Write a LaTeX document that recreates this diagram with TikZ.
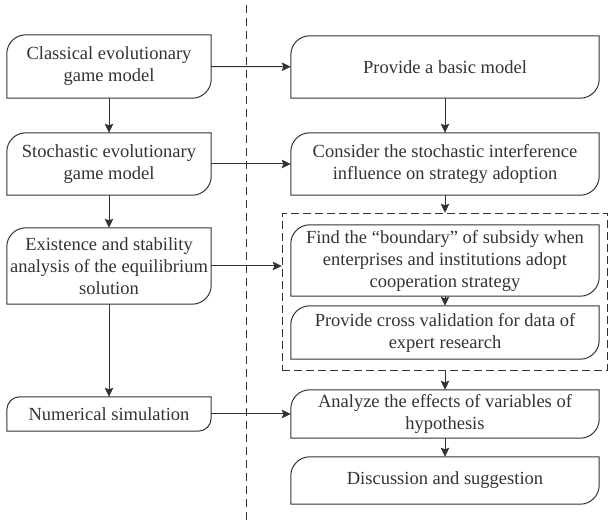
\documentclass[tikz,border=0pt]{standalone}
\usepackage{fontspec}
\setmainfont{Liberation Serif}
\usetikzlibrary{arrows.meta,fit,calc}
\definecolor{inkgray}{HTML}{333333}

% box with rounded top-left and bottom-right corners
\newcommand{\leafoutline}[2]{%
  \draw[leafline] ([yshift=-#2]#1.north west)
    arc[start angle=180,end angle=90,radius=#2] -- (#1.north east)
    -- ([yshift=#2]#1.south east)
    arc[start angle=0,end angle=-90,radius=#2] -- (#1.south west) -- cycle;}

\begin{document}
\begin{tikzpicture}[x=1pt,y=1pt,
      leafline/.style={draw=inkgray,line width=1pt},
      leaf/.style={inner sep=0pt,align=center,text=inkgray,
        font=\fontsize{18.5}{22}\selectfont},
      lbox/.style={leaf,minimum width=204pt},
      rbox/.style={leaf,minimum width=308pt},
      flow/.style={draw=inkgray,line width=1pt,
        -{Stealth[length=9pt,width=8.5pt,inset=1.5pt]}},
      groupbox/.style={draw=inkgray,line width=1pt,dash pattern=on 8pt off 4pt,
        inner xsep=8.5pt,inner ysep=11.5pt}]
  \useasboundingbox (0,0) rectangle (608,524);

  % left column
  \node[lbox,minimum height=63pt] (classic) at (109,457.5)
    {Classical evolutionary\\game model};
  \node[lbox,minimum height=62pt] (stoch) at (109,360)
    {Stochastic evolutionary\\game model};
  \node[lbox,minimum height=76pt] (exist) at (109,258)
    {Existence and stability\\analysis of the equilibrium\\solution};
  \node[lbox,minimum height=34pt] (numsim) at (109,110)
    {Numerical simulation};

  % right column
  \node[rbox,minimum height=62pt] (basic) at (445,457)
    {Provide a basic model};
  \node[rbox,minimum height=62pt] (interf) at (445,360)
    {Consider the stochastic interference\\influence on strategy adoption};
  \node[rbox,minimum height=71pt] (bound) at (445,263.5)
    {Find the ``boundary'' of subsidy when\\enterprises and institutions adopt\\cooperation strategy};
  \node[rbox,minimum height=53pt] (valid) at (445,191.5)
    {Provide cross validation for data of\\expert research};
  \node[rbox,minimum height=48pt] (effect) at (445,110)
    {Analyze the effects of variables of\\hypothesis};
  \node[rbox,minimum height=47pt] (discuss) at (445,43.5)
    {Discussion and suggestion};

  \foreach \n in {classic,stoch,exist,basic,interf,bound,valid,effect,discuss}{
    \leafoutline{\n}{19pt}
  }
  \leafoutline{numsim}{13pt}

  \node[groupbox,fit=(bound)(valid)] (grp) {};

  % divider
  \coordinate (divtop) at (246,519);
  \coordinate (divbot) at (246,2);
  \draw[draw=inkgray,line width=1pt,dash pattern=on 8pt off 5pt] (divtop) -- (divbot);

  % connectors
  \draw[flow] (classic) -- (stoch);
  \draw[flow] (stoch) -- (exist);
  \draw[flow] (exist) -- (numsim);
  \draw[flow] (classic) -- (basic);
  \draw[flow] (stoch) -- (interf);
  \draw[flow] (exist.east) -- (exist.east -| grp.west);
  \draw[flow] (numsim) -- (effect);
  \draw[flow] (basic) -- (interf);
  \draw[flow] (interf.south) -- (interf.south |- grp.north);
  \draw[flow] (bound) -- (valid);
  \draw[flow] (effect.north |- grp.south) -- (effect.north);
  \draw[flow] (effect) -- (discuss);
\end{tikzpicture}
\end{document}
